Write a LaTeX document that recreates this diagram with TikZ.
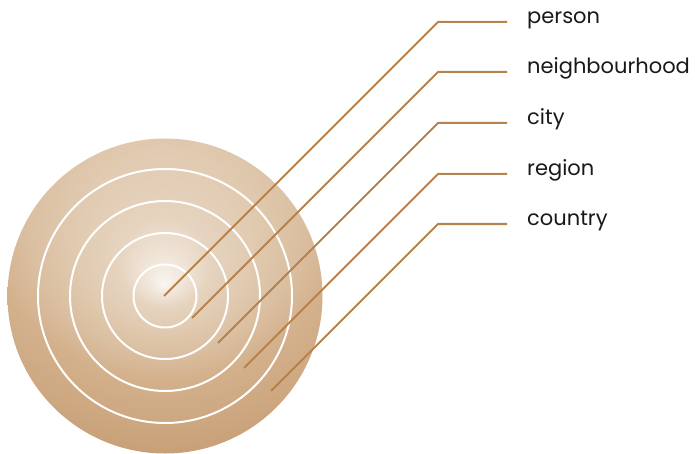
\documentclass[tikz,border=0pt]{standalone}
\usepackage{fontspec}
\setmainfont{Poppins}
\definecolor{leader}{RGB}{182,130,77}
% TikZ fits the middle 50bp square of the shading to the shaded path:
% the 700pt square below makes 1bp = 14pt here.
% Focus at the disc centre, outer circle centred 175pt higher.
\pgfdeclareradialshading{ringshade}{\pgfpoint{0bp}{-12.5bp}}{%
  color(0bp)=(rgb,255:red,250;green,246;blue,242);
  color(1.1bp)=(rgb,255:red,242;green,232;blue,221);
  color(3.2bp)=(rgb,255:red,230;green,212;blue,192);
  color(7bp)=(rgb,255:red,223;green,200;blue,173);
  color(10bp)=(rgb,255:red,218;green,190;blue,160);
  color(13.4bp)=(rgb,255:red,211;green,177;blue,140);
  color(24bp)=(rgb,255:red,200;green,160;blue,120);
  color(25bp)=(rgb,255:red,199;green,158;blue,117)}
\tikzset{
  ring/.style={draw=white, line width=2pt},
  leaderline/.style={draw=leader, line width=2pt},
  label/.style={anchor=base west, inner sep=0pt, font=\fontsize{21}{24}\selectfont, text=black!90}
}
\begin{document}
\begin{tikzpicture}[x=1pt,y=-1pt]
\useasboundingbox (0,0) rectangle (695,454);
\coordinate (c) at (165,296);
% disc with two-point radial shading
\begin{scope}
  \clip (c) circle (157.5);
  \shade[shading=ringshade] (-186,-240) rectangle (514,460);
\end{scope}
\foreach \r in {31.5,63,95,127} {
  \draw[ring] (c) circle (\r);
}
% leaders
\foreach \i/\sx/\ky/\txt in {1/164/22/person,2/192/72/neighbourhood,3/218/123/city,4/244/174/region,5/271/224/country} {
  \coordinate (s\i) at (\sx,{\ky+438-\sx});
  \coordinate (k\i) at (438,\ky);
  \coordinate (e\i) at (507,\ky);
  \node[label] (t\i) at (527,\ky+1.5) {\txt};
  \draw[leaderline] (s\i) -- (k\i) -- (e\i);
}
\end{tikzpicture}
\end{document}
